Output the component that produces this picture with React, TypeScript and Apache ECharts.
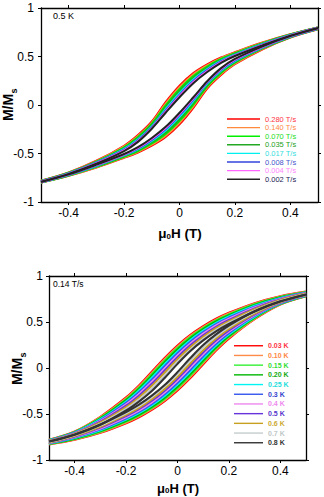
import React, { useEffect, useRef } from "react";
import * as echarts from "echarts";

// Field grid (T) shared by every branch
const xGrid = [-0.5, -0.4, -0.3, -0.2, -0.15, -0.1, -0.05, 0, 0.05, 0.1, 0.15, 0.2, 0.3, 0.4, 0.5];
const xTicks = [-0.4, -0.2, 0, 0.2, 0.4];

// Top panel: 0.5 K, descending-field (upper) branches, M/Ms
const topNames = ["0.280 T/s", "0.140 T/s", "0.070 T/s", "0.035 T/s", "0.017 T/s", "0.008 T/s", "0.004 T/s", "0.002 T/s"];
const up280 = [-0.78, -0.695, -0.575, -0.42, -0.31, -0.17, 0.03, 0.20, 0.33, 0.42, 0.49, 0.545, 0.645, 0.73, 0.80];
const up140 = [-0.78, -0.697, -0.579, -0.427, -0.32, -0.181, 0.014, 0.183, 0.316, 0.409, 0.483, 0.54, 0.641, 0.728, 0.80];
const up070 = [-0.783, -0.699, -0.583, -0.436, -0.331, -0.193, -0.004, 0.164, 0.299, 0.397, 0.474, 0.533, 0.637, 0.726, 0.799];
const up035 = [-0.784, -0.701, -0.587, -0.444, -0.342, -0.206, -0.022, 0.144, 0.282, 0.384, 0.466, 0.527, 0.633, 0.724, 0.798];
const up017 = [-0.786, -0.703, -0.592, -0.453, -0.354, -0.22, -0.042, 0.123, 0.264, 0.371, 0.457, 0.52, 0.629, 0.722, 0.797];
const up008 = [-0.787, -0.705, -0.595, -0.461, -0.364, -0.231, -0.058, 0.105, 0.248, 0.359, 0.449, 0.514, 0.625, 0.72, 0.797];
const up004 = [-0.788, -0.708, -0.60, -0.468, -0.372, -0.238, -0.069, 0.093, 0.237, 0.35, 0.442, 0.51, 0.62, 0.717, 0.796];
const up002 = [-0.79, -0.71, -0.605, -0.475, -0.38, -0.245, -0.08, 0.08, 0.225, 0.34, 0.435, 0.505, 0.615, 0.715, 0.795];
const topUppers = [up280, up140, up070, up035, up017, up008, up004, up002];
const topColors = ["#ff0000", "#ff8a3d", "#00f000", "#22a822", "#00f0f0", "#3344dd", "#ff66ff", "#222222"];
const topTextColors = ["#ff3344", "#ff8844", "#22dd22", "#22a022", "#33dddd", "#4455cc", "#ff88ff", "#222255"];

// Bottom panel: 0.14 T/s, upper branches per temperature
const botNames = ["0.03 K", "0.10 K", "0.15 K", "0.20 K", "0.25 K", "0.3 K", "0.4 K", "0.5 K", "0.6 K", "0.7 K", "0.8 K"];
const upT003 = [-0.78, -0.69, -0.53, -0.32, -0.19, -0.04, 0.11, 0.245, 0.36, 0.455, 0.535, 0.60, 0.705, 0.78, 0.83];
const upT010 = [-0.781, -0.692, -0.535, -0.329, -0.201, -0.053, 0.096, 0.232, 0.349, 0.445, 0.526, 0.592, 0.699, 0.776, 0.828];
const upT015 = [-0.783, -0.695, -0.542, -0.34, -0.214, -0.069, 0.08, 0.217, 0.335, 0.434, 0.516, 0.583, 0.693, 0.772, 0.826];
const upT020 = [-0.784, -0.697, -0.548, -0.35, -0.227, -0.084, 0.064, 0.202, 0.322, 0.422, 0.506, 0.574, 0.686, 0.768, 0.824];
const upT025 = [-0.786, -0.70, -0.557, -0.365, -0.245, -0.106, 0.041, 0.18, 0.303, 0.405, 0.491, 0.561, 0.676, 0.762, 0.821];
const upT03 = [-0.788, -0.704, -0.566, -0.38, -0.264, -0.128, 0.018, 0.159, 0.284, 0.389, 0.477, 0.548, 0.667, 0.756, 0.818];
const upT04 = [-0.79, -0.708, -0.575, -0.395, -0.283, -0.15, -0.005, 0.138, 0.265, 0.373, 0.463, 0.535, 0.658, 0.75, 0.815];
const upT05 = [-0.792, -0.711, -0.584, -0.41, -0.301, -0.172, -0.028, 0.116, 0.246, 0.356, 0.448, 0.522, 0.648, 0.744, 0.812];
const upT06 = [-0.794, -0.715, -0.593, -0.425, -0.32, -0.194, -0.051, 0.095, 0.227, 0.34, 0.434, 0.509, 0.639, 0.738, 0.809];
const upT07 = [-0.797, -0.719, -0.605, -0.445, -0.344, -0.223, -0.081, 0.067, 0.202, 0.318, 0.415, 0.492, 0.626, 0.73, 0.805];
const upT08 = [-0.80, -0.725, -0.617, -0.462, -0.365, -0.25, -0.108, 0.045, 0.185, 0.30, 0.398, 0.478, 0.614, 0.722, 0.80];
const botUppers = [upT003, upT010, upT015, upT020, upT025, upT03, upT04, upT05, upT06, upT07, upT08];
const botColors = ["#ff0000", "#ff8a4a", "#33f033", "#00b800", "#00f4f4", "#3355ee", "#ee88ee", "#6633dd", "#c8a020", "#c4cccc", "#333333"];
const botTextColors = ["#ff3344", "#ff8844", "#33dd33", "#11aa11", "#22dddd", "#3344cc", "#ee88ee", "#5533cc", "#ccaa33", "#c0c8c8", "#333333"];

const FONT = "Liberation Sans, Arial, sans-serif";

function loopSeries(name: string, upper: number[], color: string, xi: number, yi: number, width: number) {
  const n = xGrid.length;
  const upperData = xGrid.map((x, i) => [x, upper[i]]);
  const lowerData = xGrid.map((x, i) => [x, -upper[n - 1 - i]]);
  const base = {
    type: "line",
    name,
    xAxisIndex: xi,
    yAxisIndex: yi,
    smooth: 0.35,
    showSymbol: false,
    symbol: "none",
    lineStyle: { color, width },
    itemStyle: { color },
    emphasis: { disabled: true },
    silent: true,
  };
  return [
    { ...base, data: upperData },
    { ...base, data: lowerData },
  ];
}

function xAxes(gridIndex: number, margin: number) {
  const common = {
    type: "value",
    gridIndex,
    min: -0.5,
    max: 0.5,
    splitLine: { show: false },
    axisLine: { show: true, onZero: false, lineStyle: { color: "#000", width: 1.3 } },
    axisTick: { show: true, inside: false, length: 3, customValues: xTicks, lineStyle: { color: "#000", width: 1 } },
  };
  return [
    {
      ...common,
      position: "bottom",
      axisLabel: { show: true, customValues: xTicks, fontSize: 12, color: "#000", fontFamily: FONT, margin },
    },
    { ...common, position: "top", axisLabel: { show: false } },
  ];
}

function yAxes(gridIndex: number, margin: number) {
  const common = {
    type: "value",
    gridIndex,
    min: -1,
    max: 1,
    interval: 0.5,
    splitLine: { show: false },
    axisLine: { show: true, onZero: false, lineStyle: { color: "#000", width: 1.3 } },
    axisTick: { show: true, inside: false, length: 3, lineStyle: { color: "#000", width: 1 } },
  };
  return [
    {
      ...common,
      position: "left",
      axisLabel: { show: true, fontSize: 12, color: "#000", fontFamily: FONT, margin },
    },
    { ...common, position: "right", axisLabel: { show: false } },
  ];
}

function titleText(x: number, y: number, text: string, size: number) {
  return {
    type: "text",
    x,
    y,
    silent: true,
    style: {
      text,
      fill: "#000",
      fontSize: size,
      fontWeight: "bold",
      fontFamily: FONT,
      align: "center",
      verticalAlign: "middle",
      textAlign: "center",
      textVerticalAlign: "middle",
      rich: {
        a: { fontSize: size, fontWeight: "bold", fontFamily: FONT, fill: "#000" },
        s: { fontSize: Math.round(size * 0.62), fontWeight: "bold", fontFamily: FONT, fill: "#000", verticalAlign: "bottom" },
      },
    },
  };
}

// rotated "M/Ms" title built from two texts inside a rotated group
function yTitle(x: number, y: number, size: number) {
  const mainW = 1.944 * size;
  const subSize = Math.round(size * 0.64);
  const subW = 0.556 * subSize;
  const start = -(mainW + subW) / 2;
  return {
    type: "group",
    x,
    y,
    rotation: Math.PI / 2,
    silent: true,
    children: [
      {
        type: "text",
        x: start,
        y: 0,
        style: { text: "M/M", fontSize: size, fontWeight: "bold", fontFamily: FONT, fill: "#000", align: "left", verticalAlign: "middle" },
      },
      {
        type: "text",
        x: start + mainW + 0.5,
        y: size * 0.42,
        style: { text: "s", fontSize: subSize, fontWeight: "bold", fontFamily: FONT, fill: "#000", align: "left", verticalAlign: "middle" },
      },
    ],
  };
}

export default function App() {
  const ref = useRef<HTMLDivElement>(null);
  useEffect(() => {
    if (!ref.current) return;
    const chart = echarts.init(ref.current, undefined, { renderer: "svg" });
    const series: any[] = [];
    topUppers.forEach((u, k) => series.push(...loopSeries(topNames[k], u, topColors[k], 0, 0, 2.0)));
    botUppers.forEach((u, k) => series.push(...loopSeries(botNames[k], u, botColors[k], 2, 2, 2.1)));

    const legendCommon = {
      orient: "vertical",
      padding: 0,
      itemGap: 0,
      itemHeight: 1.4,
      icon: "rect",
      selectedMode: false,
      itemStyle: { borderWidth: 0 },
      lineStyle: { width: 0 },
    };

    const option: any = {
      animation: false,
      backgroundColor: "#fff",
      grid: [
        { left: 41, top: 8, width: 277, height: 194 },
        { left: 49, top: 276, width: 257, height: 184 },
      ],
      xAxis: [...xAxes(0, 5), ...xAxes(1, 5)],
      yAxis: [...yAxes(0, 7), ...yAxes(1, 6)],
      legend: [
        {
          ...legendCommon,
          left: 227,
          top: 114.7,
          itemWidth: 33,
          textStyle: { fontSize: 7.5, lineHeight: 8.6, fontFamily: FONT },
          data: topNames.map((n, k) => ({ name: n, textStyle: { color: topTextColors[k] } })),
        },
        {
          ...legendCommon,
          left: 234,
          top: 340.9,
          itemWidth: 29,
          textStyle: { fontSize: 7, lineHeight: 9.7, fontFamily: FONT, fontWeight: "bold" },
          data: botNames.map((n, k) => ({ name: n, textStyle: { color: botTextColors[k] } })),
        },
      ],
      graphic: [
        {
          type: "text",
          x: 53,
          y: 15.5,
          silent: true,
          style: { text: "0.5 K", fontSize: 9, fontFamily: FONT, fill: "#000", verticalAlign: "middle", textVerticalAlign: "middle" },
        },
        {
          type: "text",
          x: 53,
          y: 283.5,
          silent: true,
          style: { text: "0.14 T/s", fontSize: 8.5, fontFamily: FONT, fill: "#000", verticalAlign: "middle", textVerticalAlign: "middle" },
        },
        yTitle(8, 105, 14),
        titleText(180, 233, "{a|μ}{s|0}{a|H (T)}", 13.5),
        yTitle(17, 369, 14),
        titleText(178, 488, "{a|μ}{s|0}{a|H (T)}", 13),
      ],
      series,
    };
    chart.setOption(option);
    return () => chart.dispose();
  }, []);
  return <div ref={ref} style={{ position: "absolute", left: 0, top: 0, width: 324, height: 497 }} />;
}
